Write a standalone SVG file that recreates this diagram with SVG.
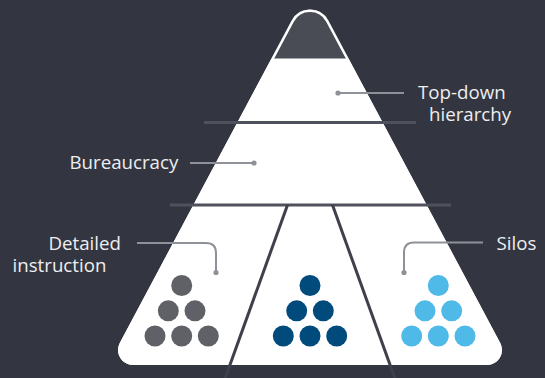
<svg xmlns="http://www.w3.org/2000/svg" width="545" height="378" viewBox="0 0 545 378">
<defs>
<style>
.lbl{font-family:"Open Sans","Liberation Sans",sans-serif;font-size:18.7px;fill:#eeeef0}
.con{fill:none;stroke:#8e9198;stroke-width:2}
.dot{fill:#8e9198}
.div{stroke:#4f525c;stroke-width:3}
.diag{stroke:#3e414b;stroke-width:3}
.g1{fill:#5f6166}
.g2{fill:#004a7c}
.g3{fill:#4fb9e8}
</style>
<clipPath id="pyrclip">
<path id="pyrshape" d="M291.74,20.44 A20.7,20.7 0 0 1 328.26,20.44 L500.23,342.94 A15,15 0 0 1 487,365 L133,365 A15,15 0 0 1 119.77,342.94 Z"/>
</clipPath>
</defs>
<rect width="545" height="378" fill="#333640"/>
<g id="pyramid">
<path d="M291.74,20.44 A20.7,20.7 0 0 1 328.26,20.44 L500.23,342.94 A15,15 0 0 1 487,365 L133,365 A15,15 0 0 1 119.77,342.94 Z" fill="#ffffff"/>
<g clip-path="url(#pyrclip)">
<rect x="250" y="0" width="120" height="58.5" fill="#4a4c55"/>
<path d="M291.74,20.44 A20.7,20.7 0 0 1 328.26,20.44 L500.23,342.94 A15,15 0 0 1 487,365 L133,365 A15,15 0 0 1 119.77,342.94 Z" fill="none" stroke="#ffffff" stroke-width="5"/>
</g>
</g>
<g id="dividers">
<line class="div" x1="204" y1="122.5" x2="416" y2="122.5"/>
<line class="div" x1="170" y1="205" x2="451" y2="205"/>
<line class="diag" x1="287.5" y1="205" x2="224.5" y2="380"/>
<line class="diag" x1="332.5" y1="205" x2="395.5" y2="380"/>
</g>
<g id="connectors">
<line class="con" x1="338" y1="93" x2="404" y2="93"/>
<circle class="dot" cx="338" cy="93" r="2.6"/>
<line class="con" x1="190" y1="163" x2="254" y2="163"/>
<circle class="dot" cx="254" cy="163" r="2.6"/>
<path class="con" d="M137,243 H206 Q216,243 216,253 V272.5"/>
<circle class="dot" cx="216" cy="272.5" r="2.6"/>
<path class="con" d="M483,242.5 H414 Q404,242.5 404,252.5 V272.5"/>
<circle class="dot" cx="404" cy="272.5" r="2.6"/>
</g>
<g id="node-topdown">
<text class="lbl" x="418" y="99">Top-down</text>
<text class="lbl" x="429" y="121">hierarchy</text>
</g>
<g id="node-bureaucracy">
<text class="lbl" x="69.5" y="169">Bureaucracy</text>
</g>
<g id="node-detailed">
<text class="lbl" x="48.5" y="249.5">Detailed</text>
<text class="lbl" x="12.5" y="271.5">instruction</text>
</g>
<g id="node-silos">
<text class="lbl" x="496.5" y="250">Silos</text>
</g>
<g id="group-gray">
<circle class="g1" cx="181.7" cy="285.5" r="10.5"/>
<circle class="g1" cx="168.3" cy="310.8" r="10.5"/>
<circle class="g1" cx="195" cy="310.8" r="10.5"/>
<circle class="g1" cx="155" cy="336" r="10.5"/>
<circle class="g1" cx="181.7" cy="336" r="10.5"/>
<circle class="g1" cx="208.3" cy="336" r="10.5"/>
</g>
<g id="group-darkblue">
<circle class="g2" cx="310" cy="285.5" r="10.5"/>
<circle class="g2" cx="296.7" cy="310.8" r="10.5"/>
<circle class="g2" cx="323.3" cy="310.8" r="10.5"/>
<circle class="g2" cx="283.3" cy="336" r="10.5"/>
<circle class="g2" cx="310" cy="336" r="10.5"/>
<circle class="g2" cx="336.7" cy="336" r="10.5"/>
</g>
<g id="group-lightblue">
<circle class="g3" cx="438.3" cy="285.5" r="10.5"/>
<circle class="g3" cx="425" cy="310.8" r="10.5"/>
<circle class="g3" cx="451.7" cy="310.8" r="10.5"/>
<circle class="g3" cx="411.7" cy="336" r="10.5"/>
<circle class="g3" cx="438.3" cy="336" r="10.5"/>
<circle class="g3" cx="465" cy="336" r="10.5"/>
</g>
</svg>
